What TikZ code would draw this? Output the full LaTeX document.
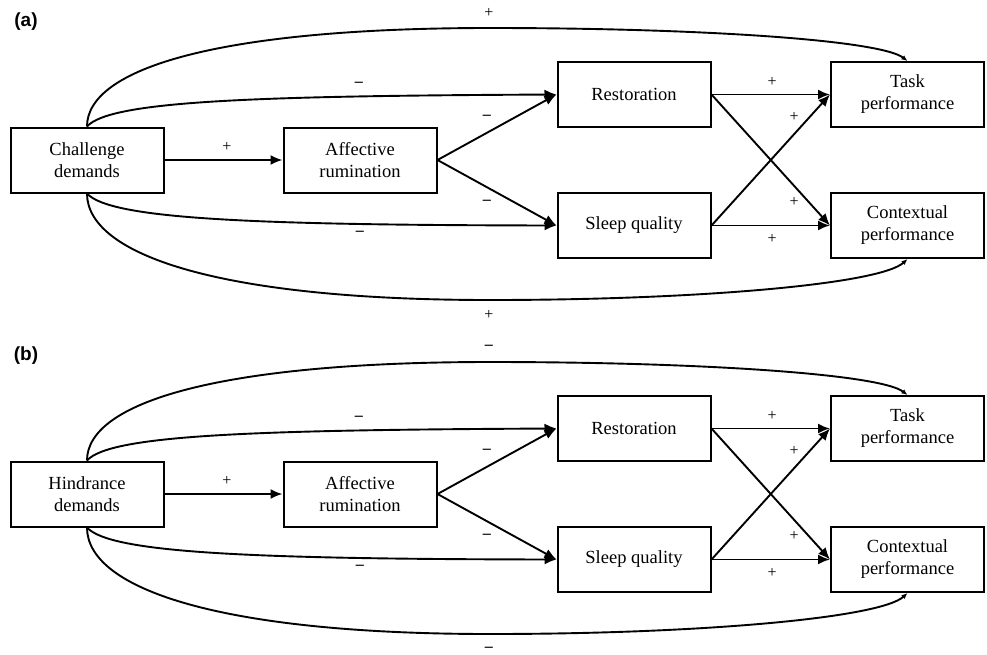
\documentclass[tikz,border=0pt]{standalone}
\usepackage{fontspec}
\setmainfont{Liberation Serif}
\newfontfamily\lblfont{Liberation Sans}
\usetikzlibrary{arrows.meta}
\tikzset{
  box/.style={draw, line width=2pt, minimum width=153pt, minimum height=65pt, align=center, inner sep=0pt,
    font=\fontsize{18.5}{22}\selectfont},
  conn/.style={line width=1.9pt},
  arr/.style={conn, -{Latex[length=12pt,width=10pt]}},
  arrs/.style={conn, -{Latex[length=6pt,width=5pt]}},
  sgn/.style={font=\fontsize{16}{16}\selectfont, inner sep=0pt},
  plab/.style={font=\lblfont\bfseries\fontsize{19}{22}\selectfont, inner sep=0pt}
}
\newcommand\mns{\textbf{–}}
\newcommand\drawpanel[6]{%
\begin{scope}[shift={(0,#2)}]
  \node[plab] (#1-lab) at (26,22) {#6};
  \node[box] (#1-cd) at (87,160) {#3};
  \node[box] (#1-ar) at (360,160) {Affective\\rumination};
  \node[box] (#1-re) at (634,94.5) {Restoration};
  \node[box] (#1-sq) at (634,225.5) {Sleep quality};
  \node[box] (#1-tp) at (907.5,94.5) {Task\\performance};
  \node[box] (#1-cp) at (907.5,225.5) {Contextual\\performance};
  \coordinate (#1-tpk) at (490,28);
  \coordinate (#1-bpk) at (490,300);
  % straight arrows
  \draw[arr] (#1-cd.east) -- (#1-ar.west);
  \draw[arr] (#1-ar.east) -- (#1-re.west);
  \draw[arr] (#1-ar.east) -- (#1-sq.west);
  \draw[arr] (#1-re.east) -- (#1-tp.west);
  \draw[arr] (#1-re.east) -- (#1-cp.west);
  \draw[arr] (#1-sq.east) -- (#1-tp.west);
  \draw[arr] (#1-sq.east) -- (#1-cp.west);
  % curved arrows
  \draw[arr] (#1-cd.north) .. controls (110,101) and (250,96) .. (#1-re.west);
  \draw[arr] (#1-cd.south) .. controls (110,219) and (250,225) .. (#1-sq.west);
  \draw[arrs] (#1-cd.north) .. controls (87,68) and (220,28) .. (#1-tpk)
      .. controls (700,28) and (880,40) .. (#1-tp.north);
  \draw[arrs] (#1-cd.south) .. controls (87,255) and (220,300) .. (#1-bpk)
      .. controls (700,300) and (880,284) .. (#1-cp.south);
  % signs
  \node[sgn] (#1-s1) at (227,147) {+};
  \node[sgn] (#1-s2) at (487,117) {\mns};
  \node[sgn] (#1-s3) at (487,202) {\mns};
  \node[sgn] (#1-s4) at (359,84) {\mns};
  \node[sgn] (#1-s5) at (360,233) {\mns};
  \node[sgn] (#1-s6) at (489,13) {#4};
  \node[sgn] (#1-s7) at (489,315) {#5};
  \node[sgn] (#1-s8) at (772,82) {+};
  \node[sgn] (#1-s9) at (794,117) {+};
  \node[sgn] (#1-s10) at (794,202) {+};
  \node[sgn] (#1-s11) at (772,239) {+};
\end{scope}}
\begin{document}
\begin{tikzpicture}[x=1pt,y=-1pt]
\useasboundingbox (0,0) rectangle (987,654);
\drawpanel{a}{0}{Challenge\\demands}{+}{+}{(a)}
\drawpanel{b}{334}{Hindrance\\demands}{\mns}{\mns}{(b)}
\end{tikzpicture}
\end{document}
